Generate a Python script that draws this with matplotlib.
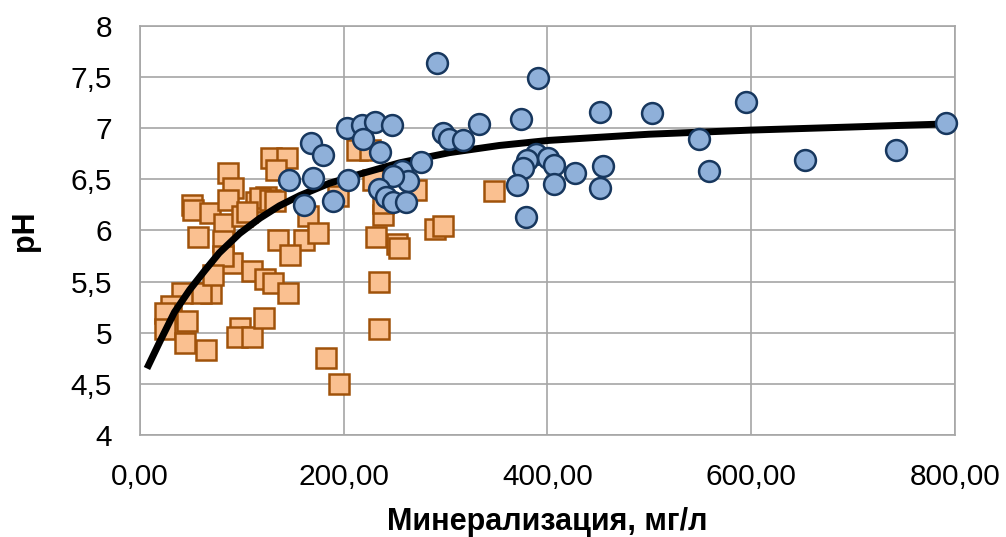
import matplotlib
matplotlib.use('Agg')
import matplotlib.pyplot as plt
from matplotlib.ticker import FuncFormatter

plt.rcParams['font.family'] = ['Liberation Sans', 'DejaVu Sans']

# orange squares (mineralization mg/l, pH)
sq_x = [129, 144, 134, 87, 91, 51, 52, 69, 87, 83, 114, 124, 118, 128, 133,
        57, 82, 100, 105, 136, 161, 147, 165, 175, 90, 82, 110, 123, 131, 145,
        70, 60, 41, 72, 31, 25, 46, 25, 44, 65, 98, 95, 110, 122, 183, 196,
        195, 213, 226, 229, 271, 232, 252, 254, 290, 298, 239, 239, 348, 235, 235]
sq_y = [6.71, 6.71, 6.59, 6.56, 6.41, 6.25, 6.20, 6.17, 6.30, 6.06, 6.28, 6.33, 6.32, 6.30, 6.29,
        5.94, 5.90, 6.14, 6.18, 5.91, 5.91, 5.76, 6.14, 5.97, 5.68, 5.75, 5.60, 5.52, 5.49, 5.39,
        5.39, 5.39, 5.39, 5.56, 5.26, 5.19, 5.11, 5.04, 4.90, 4.83, 5.05, 4.96, 4.96, 5.14, 4.75, 4.50,
        6.34, 6.79, 6.79, 6.49, 6.39, 5.94, 5.87, 5.83, 6.01, 6.04, 6.15, 6.27, 6.38, 5.50, 5.04]

# blue circles
ci_x = [292, 391, 595, 452, 503, 791, 374, 333, 298, 304, 317,
        203, 218, 231, 248, 219, 236, 168, 180, 146, 170, 161, 190, 204,
        276, 257, 263, 249, 235, 242, 249, 261,
        389, 401, 407, 380, 376, 370, 407, 427, 455, 452, 379,
        549, 559, 653, 742]
ci_y = [7.64, 7.49, 7.25, 7.16, 7.15, 7.05, 7.09, 7.04, 6.95, 6.89, 6.88,
        7.00, 7.03, 7.06, 7.03, 6.89, 6.77, 6.85, 6.74, 6.49, 6.51, 6.25, 6.29, 6.49,
        6.67, 6.58, 6.48, 6.53, 6.40, 6.33, 6.28, 6.28,
        6.75, 6.71, 6.64, 6.69, 6.61, 6.44, 6.45, 6.56, 6.63, 6.41, 6.13,
        6.89, 6.58, 6.69, 6.79]

# trend line
tr_x = [7, 20, 34, 49, 64, 78, 98, 118, 137, 157, 186, 216, 255, 304, 353, 402, 500, 599, 697, 790]
tr_y = [4.65, 4.92, 5.20, 5.42, 5.61, 5.78, 5.97, 6.12, 6.24, 6.34, 6.46, 6.55, 6.66, 6.76, 6.83, 6.88,
        6.94, 6.98, 7.01, 7.04]

fig = plt.figure(figsize=(10.06, 5.37), dpi=100)
ax = fig.add_axes([0.139, 0.190, 0.810, 0.762])

ax.plot(sq_x, sq_y, 's', ms=15, mfc='#FAC090', mec='#A0520A', mew=1.8, zorder=2, clip_on=False)
ax.plot(tr_x, tr_y, '-', color='black', lw=5, solid_capstyle='butt', solid_joinstyle='round', zorder=3)
ax.plot(ci_x, ci_y, 'o', ms=15, mfc='#8FB0D9', mec='#17375E', mew=1.8, zorder=4, clip_on=False)

ax.set_xlim(0, 800)
ax.set_ylim(4, 8)
ax.set_xticks([0, 200, 400, 600, 800])
ax.set_yticks([4, 4.5, 5, 5.5, 6, 6.5, 7, 7.5, 8])
ax.xaxis.set_major_formatter(FuncFormatter(lambda v, p: f'{v:.2f}'.replace('.', ',')))
ax.yaxis.set_major_formatter(FuncFormatter(lambda v, p: f'{v:g}'.replace('.', ',')))
ax.tick_params(length=0, labelsize=21.5, pad=20)
ax.grid(True, color='#A6A6A6', lw=1.2)
ax.set_axisbelow(True)
for s in ax.spines.values():
    s.set_color('#A6A6A6')
    s.set_linewidth(1.2)

ax.set_xlabel('Минерализация, мг/л', fontsize=22, fontweight='bold', labelpad=12)
ax.set_ylabel('pH', fontsize=22, fontweight='bold', labelpad=22)

fig.savefig('out.png', dpi=100)
